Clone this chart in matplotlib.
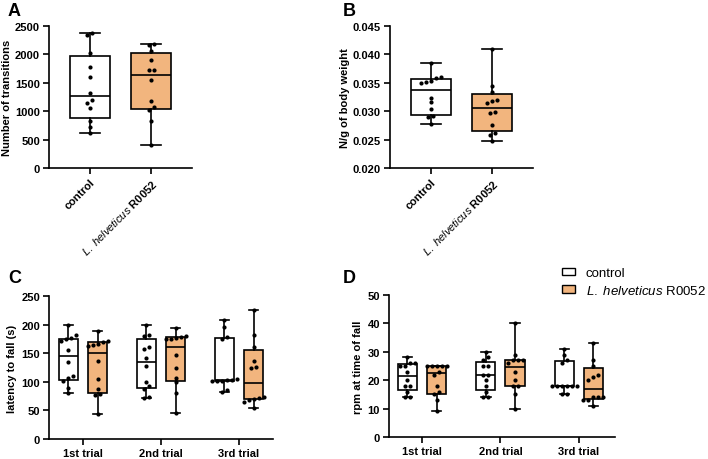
import numpy as np
import matplotlib.pyplot as plt
from matplotlib.patches import Patch

plt.rcParams['font.family'] = ['Liberation Sans', 'DejaVu Sans']
plt.rcParams['mathtext.fontset'] = 'custom'
plt.rcParams['mathtext.it'] = 'Liberation Sans:italic'
plt.rcParams['mathtext.rm'] = 'Liberation Sans'

# labels
groups = ['control', r'$\mathit{L.}$ $\mathit{helveticus}$ R0052']
trials = ['1st trial', '2nd trial', '3rd trial']

# A: number of transitions
trans_ctrl = [2376, 2341, 2024, 1783, 1602, 1326, 1197, 1140, 1050, 827, 728, 610]
trans_lh = [2180, 2165, 2055, 1905, 1730, 1725, 1555, 1185, 1070, 1020, 822, 412]

# B: grip strength, N/g of body weight
grip_ctrl = [0.0384, 0.0361, 0.0358, 0.0354, 0.0352, 0.0350, 0.0324, 0.0316,
             0.0303, 0.0291, 0.0290, 0.0278]
grip_lh = [0.0409, 0.0344, 0.0333, 0.0320, 0.0318, 0.0314, 0.0298, 0.0296,
           0.0276, 0.0262, 0.0258, 0.0248]

# C: latency to fall (s), one list per trial
lat_ctrl = [
    [200, 182, 176, 174, 172, 155, 134, 111, 106, 102, 90, 80],
    [200, 182, 180, 161, 158, 142, 127, 99, 92, 88, 73, 72],
    [208, 196, 178, 175, 105, 104, 103, 102, 102, 101, 85, 83],
]
lat_lh = [
    [188, 171, 170, 166, 164, 162, 137, 105, 88, 79, 77, 43],
    [194, 180, 178, 176, 175, 174, 147, 124, 107, 99, 80, 45],
    [225, 182, 161, 136, 126, 124, 73, 72, 70, 69, 64, 54],
]

# D: rpm at time of fall
rpm_ctrl = [
    [28, 26, 26, 25, 25, 23, 20, 18, 18, 16, 14, 14],
    [30, 28, 27, 25, 25, 22, 22, 20, 18, 16, 14, 14],
    [31, 29, 27, 26, 18, 18, 18, 18, 18, 18, 15, 15],
]
rpm_lh = [
    [25, 25, 25, 25, 25, 23, 22, 18, 16, 15, 13, 9],
    [40, 29, 27, 27, 27, 26, 23, 20, 18, 18, 15, 10],
    [33, 27, 25, 22, 21, 20, 14, 14, 14, 13, 13, 11],
]

orange = '#F2B57E'


def box_stats(vals):
    v = np.asarray(vals, dtype=float)
    q1, med, q3 = np.percentile(v, [25, 50, 75], method='weibull')
    return dict(med=med, q1=q1, q3=q3, whislo=v.min(), whishi=v.max())


def spread_x(ax, x0, vals, step_px=5.0, tol_px=4.0):
    # put overlapping dots side by side, like a scatter dot plot
    pts = ax.transData.transform(np.column_stack([np.full(len(vals), x0), vals]))
    order = np.argsort(pts[:, 1])
    xs = pts[:, 0].copy()
    clusters = [[order[0]]]
    for i in order[1:]:
        if pts[i, 1] - pts[clusters[-1][-1], 1] < tol_px:
            clusters[-1].append(i)
        else:
            clusters.append([i])
    for c in clusters:
        n = len(c)
        for k, i in enumerate(c):
            xs[i] += (k - (n - 1) / 2) * step_px
    back = ax.transData.inverted().transform(np.column_stack([xs, pts[:, 1]]))
    return back[:, 0]


def draw_group(ax, pos, vals, color, width):
    ax.bxp([box_stats(vals)], positions=[pos], widths=width, capwidths=width * 0.5,
           showfliers=False, patch_artist=True,
           boxprops=dict(facecolor=color, edgecolor='black', linewidth=1.2),
           medianprops=dict(color='black', linewidth=1.2),
           whiskerprops=dict(color='black', linewidth=1.2),
           capprops=dict(color='black', linewidth=1.2), manage_ticks=False)
    xs = spread_x(ax, pos, vals)
    ax.scatter(xs, vals, s=9, color='black', zorder=5, linewidths=0)


def style(ax):
    for s in ['top', 'right']:
        ax.spines[s].set_visible(False)
    for s in ['left', 'bottom']:
        ax.spines[s].set_linewidth(1.2)
    ax.tick_params(direction='out', length=4, width=1.2, labelsize=8, pad=2.5)
    for t in ax.get_xticklabels() + ax.get_yticklabels():
        t.set_fontweight('bold')


fig = plt.figure(figsize=(7.08, 4.6), dpi=100)
W, H = 708, 460


def px_axes(l, r, t, b):
    return fig.add_axes([l / W, 1 - b / H, (r - l) / W, (b - t) / H])


axA = px_axes(49, 192, 27, 169)
axB = px_axes(390, 533, 27, 169)
axC = px_axes(49, 273, 297, 440)
axD = px_axes(389, 615, 296, 438)

# A and B
for ax, ctrl, lh, ylim, yticks, ylabel in [
        (axA, trans_ctrl, trans_lh, (0, 2500), np.arange(0, 2501, 500), 'Number of transitions'),
        (axB, grip_ctrl, grip_lh, (0.020, 0.045), np.arange(0.020, 0.0451, 0.005), 'N/g of body weight')]:
    ax.set_xlim(-0.672, 1.672)
    ax.set_ylim(*ylim)
    ax.set_yticks(yticks)
    draw_group(ax, 0, ctrl, 'white', 0.65)
    draw_group(ax, 1, lh, orange, 0.65)
    ax.set_xticks([0, 1])
    ax.set_xticklabels(groups, rotation=45, ha='right', rotation_mode='anchor')
    ax.set_ylabel(ylabel, fontsize=8, fontweight='bold', labelpad=2)
    style(ax)
axB.yaxis.set_major_formatter(plt.FormatStrFormatter('%.3f'))
style(axB)

# C and D
for ax, ctrl, lh, xlim, ylim, yticks, ylabel in [
        (axC, lat_ctrl, lat_lh, (-0.436, 2.436), (0, 250), np.arange(0, 251, 50), 'latency to fall (s)'),
        (axD, rpm_ctrl, rpm_lh, (-0.42, 2.46), (0, 50), np.arange(0, 51, 10), 'rpm at time of fall')]:
    ax.set_xlim(*xlim)
    ax.set_ylim(*ylim)
    ax.set_yticks(yticks)
    for i in range(len(trials)):
        draw_group(ax, i - 0.186, ctrl[i], 'white', 0.244)
        draw_group(ax, i + 0.186, lh[i], orange, 0.244)
    ax.set_xticks(range(len(trials)))
    ax.set_xticklabels(trials)
    ax.set_ylabel(ylabel, fontsize=8, fontweight='bold', labelpad=3)
    style(ax)

# panel letters
for letter, x, y in [('A', 8, 3), ('B', 343, 3), ('C', 8, 270), ('D', 343, 270)]:
    fig.text(x / W, 1 - y / H, letter, fontsize=13, fontweight='bold', va='top')

handles = [Patch(facecolor='white', edgecolor='black', linewidth=1.0),
           Patch(facecolor=orange, edgecolor='black', linewidth=1.0)]
fig.legend(handles, groups, loc='upper left', bbox_to_anchor=(562 / W, 1 - 268 / H),
           frameon=False, fontsize=9.5, handlelength=1.0, handleheight=0.5,
           handletextpad=0.8, labelspacing=0.35, borderaxespad=0, borderpad=0)

fig.savefig('out.png', dpi=100)
